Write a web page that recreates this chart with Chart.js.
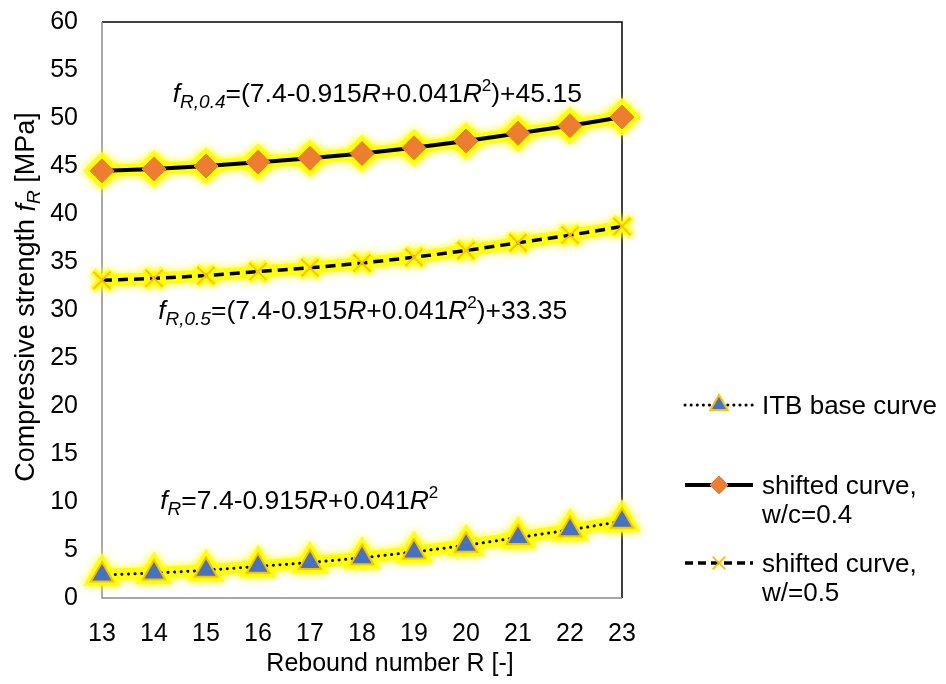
<!DOCTYPE html>
<html>
<head>
<meta charset="utf-8">
<script src="https://cdn.jsdelivr.net/npm/chart.js@4.4.1/dist/chart.umd.min.js"></script>
<style>
  html, body { margin: 0; padding: 0; background: #fff; }
  #wrap { width: 946px; height: 684px; }
</style>
</head>
<body>
<div id="wrap"><canvas id="chart"></canvas></div>
<script>
const FONT = "'Liberation Sans', Arial, sans-serif";

const rebound   = [13, 14, 15, 16, 17, 18, 19, 20, 21, 22, 23];
const itbBase   = [2.4, 2.6, 2.9, 3.3, 3.7, 4.2, 4.8, 5.5, 6.3, 7.1, 8.0];
const shifted04 = [44.5, 44.7, 45.0, 45.4, 45.8, 46.3, 46.9, 47.6, 48.4, 49.2, 50.1];
const shifted05 = [33.1, 33.3, 33.6, 34.0, 34.4, 34.9, 35.5, 36.2, 37.0, 37.8, 38.7];

const legendLabels = [["ITB base curve"], ["shifted curve,", "w/c=0.4"], ["shifted curve,", "w/=0.5"]];

const pts = (vals) => rebound.map((r, i) => ({ x: r, y: vals[i] }));

const GLOW = "rgba(255,255,0,0.9)";
const GOLD = "#FFC000";
const BLUE = "#4472C4";
const ORANGE = "#ED7D31";

// rich text: segments of [text, italic, kind] where kind = "" | "sub" | "sup"
function segSize(size, kind) {
  if (kind === "sub") return Math.round(size * 0.7);
  if (kind === "sup") return Math.round(size * 0.64);
  return size;
}
function drawRich(ctx, x, y, segs, size) {
  ctx.save();
  ctx.textBaseline = "middle";
  ctx.textAlign = "left";
  ctx.fillStyle = "#000";
  for (const [t, it, kind] of segs) {
    const s = segSize(size, kind);
    const dy = kind === "sub" ? size * 0.3 : kind === "sup" ? -size * 0.33 : 0;
    ctx.font = (it ? "italic " : "") + s + "px " + FONT;
    ctx.fillText(t, x, y + dy);
    x += ctx.measureText(t).width;
  }
  ctx.restore();
}
function richWidth(ctx, segs, size) {
  let w = 0;
  ctx.save();
  for (const [t, it, kind] of segs) {
    ctx.font = (it ? "italic " : "") + segSize(size, kind) + "px " + FONT;
    w += ctx.measureText(t).width;
  }
  ctx.restore();
  return w;
}

const eq04 = [["f", 1, ""], ["R,0.4", 1, "sub"], ["=(7.4-0.915", 0, ""], ["R", 1, ""], ["+0.041", 0, ""], ["R", 1, ""], ["2", 0, "sup"], [")+45.15", 0, ""]];
const eq05 = [["f", 1, ""], ["R,0.5", 1, "sub"], ["=(7.4-0.915", 0, ""], ["R", 1, ""], ["+0.041", 0, ""], ["R", 1, ""], ["2", 0, "sup"], [")+33.35", 0, ""]];
const eqBase = [["f", 1, ""], ["R", 1, "sub"], ["=7.4-0.915", 0, ""], ["R", 1, ""], ["+0.041", 0, ""], ["R", 1, ""], ["2", 0, "sup"]];
const yTitle = [["Compressive strength ", 0, ""], ["f", 1, ""], ["R", 1, "sub"], [" [MPa]", 0, ""]];

const glowPlugin = {
  id: "glow",
  beforeDatasetDraw(chart, args) {
    const ds = chart.data.datasets[args.index];
    chart.ctx.save();
    if (ds.glow) { chart.ctx.shadowColor = "#ffff00"; chart.ctx.shadowBlur = 9; }
  },
  afterDatasetDraw(chart) { chart.ctx.restore(); },
};

const framePlugin = {
  id: "frame",
  beforeDatasetsDraw(chart) {
    const { ctx, chartArea: a } = chart;
    ctx.save();
    ctx.lineWidth = 1.5;
    ctx.strokeStyle = "#000";
    ctx.beginPath();
    ctx.moveTo(a.left, a.top); ctx.lineTo(a.right, a.top); ctx.lineTo(a.right, a.bottom);
    ctx.stroke();
    ctx.strokeStyle = "#8c8c8c";
    ctx.beginPath();
    ctx.moveTo(a.left, a.top); ctx.lineTo(a.left, a.bottom); ctx.lineTo(a.right, a.bottom);
    ctx.stroke();
    ctx.restore();
  },
  afterDraw(chart) {
    const { ctx, scales: { x, y }, chartArea: a } = chart;
    // equations, anchored in data space
    drawRich(ctx, x.getPixelForValue(14.36), y.getPixelForValue(52.4), eq04, 26.5);
    drawRich(ctx, x.getPixelForValue(14.08), y.getPixelForValue(29.8), eq05, 26.5);
    drawRich(ctx, x.getPixelForValue(14.12), y.getPixelForValue(10.0), eqBase, 26.5);

    // axis titles
    ctx.save();
    ctx.translate(27, 297);
    ctx.rotate(-Math.PI / 2);
    drawRich(ctx, -richWidth(ctx, yTitle, 27) / 2, 0, yTitle, 27);
    ctx.restore();
    ctx.save();
    ctx.font = "25px " + FONT;
    ctx.fillStyle = "#000";
    ctx.textAlign = "center";
    ctx.textBaseline = "middle";
    ctx.fillText("Rebound number R [-]", (a.left + a.right) / 2 + 28, 664);
    ctx.restore();

    // legend
    const rows = [405, 485, 563];
    const styles = [
      { dash: [0.1, 6], w: 3, cap: "round", marker: "triangle", fill: BLUE, stroke: GOLD, r: 10, bw: 2 },
      { dash: [], w: 4, cap: "butt", marker: "rectRot", fill: ORANGE, stroke: ORANGE, r: 9, bw: 1 },
      { dash: [8, 5], w: 3.5, cap: "butt", marker: "crossRot", fill: GOLD, stroke: GOLD, r: 9, bw: 2 },
    ];
    rows.forEach((yy, i) => {
      const st = styles[i];
      ctx.save();
      ctx.strokeStyle = "#000";
      ctx.lineWidth = st.w;
      ctx.lineCap = st.cap;
      ctx.setLineDash(st.dash);
      ctx.beginPath(); ctx.moveTo(685, yy); ctx.lineTo(753, yy); ctx.stroke();
      ctx.restore();
      ctx.save();
      ctx.fillStyle = st.fill; ctx.strokeStyle = st.stroke; ctx.lineWidth = st.bw;
      Chart.helpers.drawPoint(ctx, { pointStyle: st.marker, radius: st.r, borderWidth: st.bw }, 719, yy);
      ctx.restore();
      ctx.save();
      ctx.font = "26px " + FONT; ctx.fillStyle = "#000"; ctx.textBaseline = "middle";
      legendLabels[i].forEach((t, k) => ctx.fillText(t, 762, yy + 2 + k * 29));
      ctx.restore();
    });
  },
};

new Chart(document.getElementById("chart"), {
  type: "line",
  data: {
    datasets: [
      { label: "ITB base curve", data: pts(itbBase), order: 1, borderColor: "#000", borderWidth: 3, borderDash: [0.1, 6.5], borderCapStyle: "round",
        pointStyle: "triangle", pointRadius: 13, pointBackgroundColor: BLUE, pointBorderColor: GOLD, pointBorderWidth: 2 },
      { label: "shifted curve, w/c=0.4", data: pts(shifted04), order: 1, borderColor: "#000", borderWidth: 4,
        pointStyle: "rectRot", pointRadius: 12, pointBackgroundColor: ORANGE, pointBorderColor: ORANGE, pointBorderWidth: 1 },
      { label: "shifted curve, w/=0.5", data: pts(shifted05), order: 1, borderColor: "#000", borderWidth: 3.5, borderDash: [10, 6],
        pointStyle: "crossRot", pointRadius: 12, pointBackgroundColor: GOLD, pointBorderColor: GOLD, pointBorderWidth: 2 },
      // yellow glow underlays
      ...[itbBase, shifted04, shifted05].map((vals, i) => ({
        label: "glow" + i, data: pts(vals), order: 2, glow: true, borderColor: GLOW, borderWidth: 12,
        pointStyle: ["triangle", "rectRot", "crossRot"][i], pointRadius: [15, 14, 13][i],
        pointBackgroundColor: GLOW, pointBorderColor: GLOW, pointBorderWidth: 7,
      })),
    ],
  },
  options: {
    responsive: true,
    maintainAspectRatio: false,
    animation: false,
    devicePixelRatio: 1,
    layout: { padding: { left: 0, top: 22, right: 324, bottom: 0 } },
    elements: { line: { cubicInterpolationMode: "monotone" } },
    datasets: { line: { clip: false } },
    plugins: { legend: { display: false }, tooltip: { enabled: false } },
    scales: {
      x: {
        type: "linear", min: 13, max: 23,
        grid: { display: false, drawTicks: false }, border: { display: false },
        ticks: { stepSize: 1, color: "#000", padding: 21, font: { family: FONT, size: 25 } },
        afterFit: (s) => { s.height = 86; s.paddingLeft = 0; s.paddingRight = 0; },
      },
      y: {
        min: 0, max: 60,
        grid: { display: false, drawTicks: false }, border: { display: false },
        ticks: { stepSize: 5, color: "#000", padding: 24, font: { family: FONT, size: 25 } },
        afterFit: (s) => { s.width = 102; s.paddingTop = 0; s.paddingBottom = 0; },
      },
    },
  },
  plugins: [glowPlugin, framePlugin],
});
</script>
</body>
</html>
